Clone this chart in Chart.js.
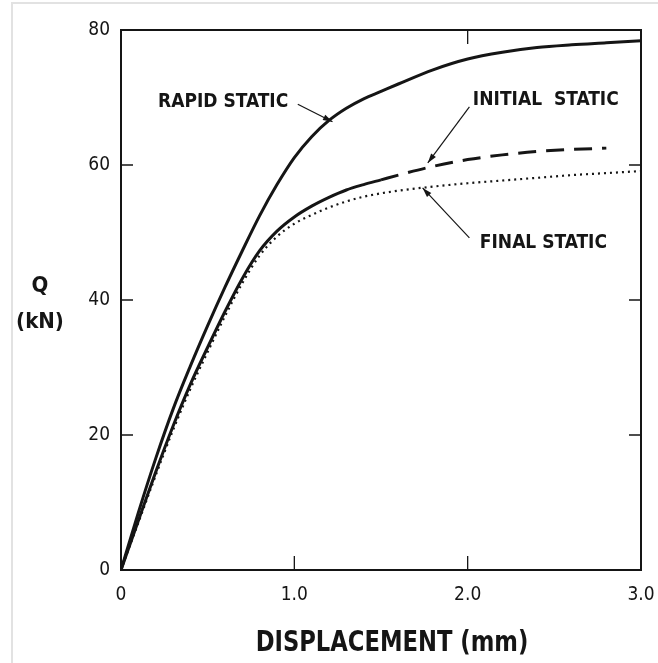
<!DOCTYPE html>
<html>
<head>
<meta charset="utf-8">
<script src="https://cdn.jsdelivr.net/npm/chart.js@4/dist/chart.umd.min.js"></script>
<style>
html,body{margin:0;padding:0;background:#fff;}
canvas{display:block;}
</style>
</head>
<body>
<canvas id="c" width="658" height="663"></canvas>
<script>
// ---- data ----
const displacement = [0,0.1,0.2,0.3,0.4,0.5,0.6,0.7,0.8,0.9,1.0,1.1,1.2,1.3,1.4,1.5,1.6,1.8,2.0,2.2,2.4,2.6,2.8,3.0];
const rapidStatic   = [0,8.5,16.5,23.8,30.2,36.2,41.9,47.3,52.5,57.1,61.1,64.2,66.6,68.4,69.8,70.9,72,74.1,75.7,76.7,77.4,77.8,78.1,78.4];
const initialStatic = [0,7.3,14.5,21.3,27.5,33,38.3,43.2,47.3,50.2,52.3,53.9,55.2,56.3,57.1,57.8,58.5,59.8,60.8,61.5,62.0,62.3,62.5,null];
const finalStatic   = [0,7.0,14.0,20.7,26.8,32.3,37.6,42.5,46.6,49.4,51.3,52.6,53.7,54.6,55.3,55.8,56.2,56.8,57.3,57.7,58.1,58.5,58.8,59.1];
const yTicks = [0,20,40,60,80];
const xTickLabels = {0:'0',1:'1.0',2:'2.0',3:'3.0'};
const dashStart = 1.45; // initial static drawn dashed beyond this displacement

// annotation labels (data coordinates)
const labels = [
  {text:'RAPID STATIC',    x:0.965, y:69.3, align:'right', arrow:[[1.02,69.0],[1.22,66.4]]},
  {text:'INITIAL  STATIC', x:2.03,  y:69.6, align:'left',  arrow:[[2.01,68.6],[1.77,60.3]]},
  {text:'FINAL STATIC',    x:2.07,  y:48.4, align:'left',  arrow:[[2.01,49.2],[1.74,56.6]]}
];

const pts = arr => displacement.map((x,i)=>({x:x,y:arr[i]})).filter(p=>p.y!==null);

const INK = '#151515';
const NARROW = '"Liberation Sans Narrow","DejaVu Sans Condensed","Arial Narrow","DejaVu Sans",sans-serif';

const decor = {
  id:'decor',
  afterDraw(chart){
    const ctx = chart.ctx, a = chart.chartArea;
    const xs = chart.scales.x, ys = chart.scales.y;
    ctx.save();
    // faint outer frame
    ctx.strokeStyle = '#e2e2e2'; ctx.lineWidth = 2;
    ctx.beginPath(); ctx.moveTo(12,663); ctx.lineTo(12,3); ctx.lineTo(658,3); ctx.stroke();
    // plot box
    ctx.strokeStyle = INK; ctx.lineWidth = 2;
    ctx.strokeRect(a.left, a.top, a.right-a.left, a.bottom-a.top);
    // inward ticks
    ctx.lineWidth = 1.3;
    ctx.beginPath();
    [20,40,60].forEach(v=>{
      const py = ys.getPixelForValue(v);
      ctx.moveTo(a.left, py); ctx.lineTo(a.left+12, py);
      ctx.moveTo(a.right, py); ctx.lineTo(a.right-12, py);
    });
    [1,2].forEach(v=>{
      const px = xs.getPixelForValue(v);
      ctx.moveTo(px, a.bottom); ctx.lineTo(px, a.bottom-14);
    });
    const px2 = xs.getPixelForValue(2);
    ctx.moveTo(px2, a.top); ctx.lineTo(px2, a.top+14);
    ctx.stroke();
    // annotation labels + arrows
    ctx.fillStyle = INK;
    ctx.font = 'bold 19px ' + NARROW;
    ctx.textBaseline = 'middle';
    labels.forEach(l=>{
      ctx.textAlign = l.align;
      ctx.fillText(l.text, xs.getPixelForValue(l.x), ys.getPixelForValue(l.y));
      const [t,h] = l.arrow;
      const x1 = xs.getPixelForValue(t[0]), y1 = ys.getPixelForValue(t[1]);
      const x2 = xs.getPixelForValue(h[0]), y2 = ys.getPixelForValue(h[1]);
      ctx.strokeStyle = INK; ctx.lineWidth = 1.2;
      ctx.beginPath(); ctx.moveTo(x1,y1); ctx.lineTo(x2,y2); ctx.stroke();
      const ang = Math.atan2(y2-y1, x2-x1), L = 10, W = 0.3;
      ctx.beginPath();
      ctx.moveTo(x2,y2);
      ctx.lineTo(x2 - L*Math.cos(ang-W), y2 - L*Math.sin(ang-W));
      ctx.lineTo(x2 - L*Math.cos(ang+W), y2 - L*Math.sin(ang+W));
      ctx.closePath(); ctx.fill();
    });
    // axis titles
    ctx.textAlign = 'center';
    ctx.font = 'bold 22px ' + NARROW;
    ctx.fillText('Q', 40, 286);
    ctx.fillText('(kN)', 40, 322);
    ctx.textBaseline = 'alphabetic';
    ctx.save();
    ctx.translate(392, 651);
    ctx.scale(0.9, 1);
    ctx.font = 'bold 28px ' + NARROW;
    ctx.fillText('DISPLACEMENT (mm)', 0, 0);
    ctx.restore();
    ctx.restore();
  }
};

new Chart(document.getElementById('c'), {
  type:'line',
  data:{
    datasets:[
      {label:'RAPID STATIC', data:pts(rapidStatic), borderColor:INK, borderWidth:3, pointRadius:0, cubicInterpolationMode:'monotone'},
      {label:'INITIAL STATIC', data:pts(initialStatic), borderColor:INK, borderWidth:3, pointRadius:0, cubicInterpolationMode:'monotone',
        segment:{borderDash: c => c.p0.parsed.x >= dashStart ? [18,10] : undefined}},
      {label:'FINAL STATIC', data:pts(finalStatic), borderColor:INK, borderWidth:2.2, borderDash:[2,4], pointRadius:0, cubicInterpolationMode:'monotone'}
    ]
  },
  options:{
    responsive:false,
    animation:false,
    events:[],
    layout:{padding:{top:30,right:17,left:0,bottom:0}},
    plugins:{legend:{display:false},tooltip:{enabled:false}},
    scales:{
      x:{
        type:'linear', min:0, max:3,
        grid:{display:false},
        border:{display:true,color:INK,width:2},
        afterBuildTicks: s => { s.ticks = [0,1,2,3].map(v=>({value:v})); },
        ticks:{color:INK, padding:6, maxRotation:0, font:{family:NARROW,size:19},
          callback: v => xTickLabels[v]},
        afterFit: s => { s.height = 93; s.paddingLeft = 0; s.paddingRight = 0; }
      },
      y:{
        type:'linear', min:0, max:80,
        grid:{display:false},
        border:{display:true,color:INK,width:2},
        afterBuildTicks: s => { s.ticks = yTicks.map(v=>({value:v})); },
        ticks:{color:INK, padding:3, font:{family:NARROW,size:19}},
        afterFit: s => { s.width = 121; s.paddingTop = 0; s.paddingBottom = 0; }
      }
    }
  },
  plugins:[decor]
});
</script>
</body>
</html>
